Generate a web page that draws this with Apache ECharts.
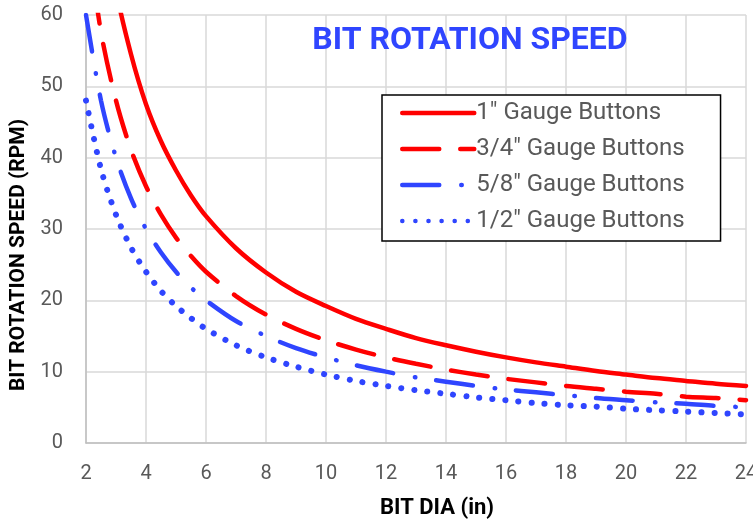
<!DOCTYPE html>
<html><head><meta charset="utf-8">
<script src="https://cdn.jsdelivr.net/npm/echarts@6/dist/echarts.min.js"></script>
<style>html,body{margin:0;padding:0;background:#fff}#c{width:753px;height:523px}</style>
</head><body><div id="c"></div>
<script>
const bitDia = [2, 2.5, 3, 3.5, 4, 4.5, 5, 5.5, 6, 7, 8, 9, 10, 11, 12, 13, 14, 15, 16, 17, 18, 19, 20, 21, 22, 23, 24];
const gauge1 = [96, 76.5, 63.5, 54.5, 47.5, 42.3, 38.2, 34.7, 31.8, 27.3, 23.9, 21.2, 19.2, 17.4, 16, 14.7, 13.7, 12.8, 12, 11.3, 10.7, 10.1, 9.6, 9.1, 8.7, 8.3, 8.0];
const gauge34 = [72, 57.6, 48, 41.1, 36, 32, 28.8, 26.2, 24, 20.6, 18, 16, 14.4, 13.1, 12, 11.1, 10.3, 9.6, 9, 8.5, 8, 7.6, 7.2, 6.9, 6.5, 6.3, 6.0];
const gauge58 = [60, 48, 40, 34.3, 30, 26.7, 24, 21.8, 20, 17.1, 15, 13.3, 12, 10.9, 10, 9.2, 8.6, 8, 7.5, 7.1, 6.7, 6.3, 6, 5.7, 5.5, 5.2, 5.0];
const gauge12 = [48, 38.4, 32, 27.4, 24, 21.3, 19.2, 17.5, 16, 13.7, 12, 10.7, 9.6, 8.7, 8, 7.4, 6.9, 6.4, 6, 5.6, 5.3, 5.1, 4.8, 4.6, 4.4, 4.2, 4.0];
const seriesNames = ['1" Gauge Buttons', '3/4" Gauge Buttons', '5/8" Gauge Buttons', '1/2" Gauge Buttons'];
const xTicks = {min: 2, max: 24, interval: 2};
const yTicks = {min: 0, max: 60, interval: 10};

const RED = '#FF0000', BLUE = '#2F45FF';
const pair = arr => bitDia.map((x, i) => [x, arr[i]]);
const styles = [
  {color: RED, type: 'solid', width: 4.5},
  {color: RED, type: [37, 21], width: 4.5},
  {color: BLUE, type: [37, 22, 0.5, 21], width: 4.5},
  {color: BLUE, type: [0.1, 13], width: 6}
];
const datas = [gauge1, gauge34, gauge58, gauge12];
const chart = echarts.init(document.getElementById('c'), null, {renderer: 'canvas'});
const FONT = 'Roboto, "Liberation Sans", sans-serif';
chart.setOption({
  animation: false,
  backgroundColor: '#fff',
  title: {
    text: 'BIT ROTATION SPEED', left: 465, top: 20, textAlign: 'center',
    textStyle: {color: '#2F45FF', fontSize: 32, fontWeight: 'bold', fontFamily: FONT}
  },
  legend: {
    orient: 'vertical', left: 382, top: 95,
    padding: [6, 36, 8, 18], itemWidth: 72, itemHeight: 14, itemGap: 12,
    borderColor: '#000', borderWidth: 1.5, backgroundColor: '#fff',
    itemStyle: {opacity: 0},
    lineStyle: {width: 4.5},
    textStyle: {color: '#595959', fontSize: 24, lineHeight: 24, fontFamily: FONT, padding: [0, 0, 0, -3]},
    data: seriesNames
  },
  grid: {left: 86, right: 7, top: 15, bottom: 80, outerBoundsMode: 'none', containLabel: false},
  xAxis: {
    type: 'value', min: xTicks.min, max: xTicks.max, interval: xTicks.interval,
    name: 'BIT DIA (in)', nameLocation: 'middle', nameGap: 54,
    nameTextStyle: {color: '#000', fontSize: 22, fontWeight: 'bold', fontFamily: FONT, padding: [0, 0, 0, 42]},
    axisLine: {show: true, lineStyle: {color: '#BFBFBF', width: 1.5}},
    axisTick: {show: false},
    axisLabel: {color: '#595959', fontSize: 20, fontFamily: FONT, margin: 21},
    splitLine: {show: true, lineStyle: {color: '#D9D9D9', width: 1.5}}
  },
  yAxis: {
    type: 'value', min: yTicks.min, max: yTicks.max, interval: yTicks.interval,
    name: 'BIT ROTATION SPEED (RPM)', nameLocation: 'middle', nameGap: 56,
    nameTextStyle: {color: '#000', fontSize: 21, fontWeight: 'bold', fontFamily: FONT, padding: [0, 52, 0, 0]},
    axisLine: {show: true, lineStyle: {color: '#BFBFBF', width: 1.5}},
    axisTick: {show: false},
    axisLabel: {color: '#595959', fontSize: 20, fontFamily: FONT, margin: 23},
    splitLine: {show: true, lineStyle: {color: '#D9D9D9', width: 1.5}}
  },
  series: datas.map((d, i) => ({
    name: seriesNames[i], type: 'line', data: pair(d), smooth: 0.3, showSymbol: false, symbol: 'none',
    clip: true,
    lineStyle: {color: styles[i].color, type: styles[i].type, width: styles[i].width, cap: 'round'},
    itemStyle: {color: styles[i].color}
  }))
});
</script></body></html>
